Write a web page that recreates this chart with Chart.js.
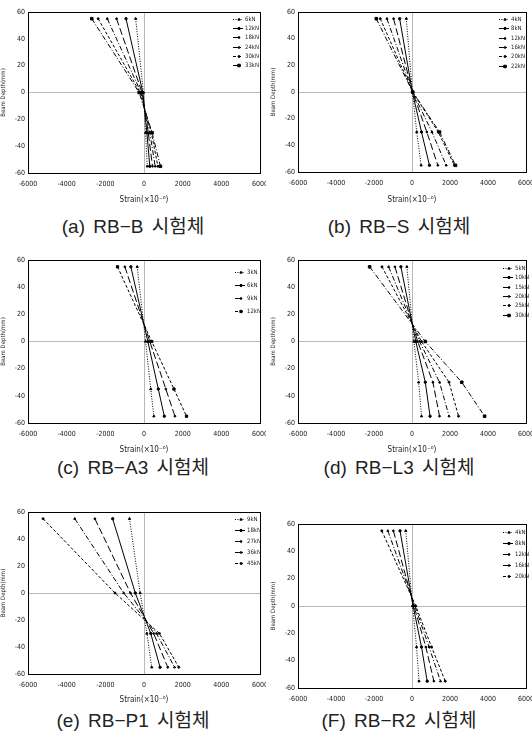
<!DOCTYPE html>
<html>
<head>
<meta charset="utf-8">
<script src="https://cdn.jsdelivr.net/npm/chart.js@4.4.0/dist/chart.umd.min.js"></script>
<style>
  body { margin: 0; background: #fff; width: 532px; height: 741px; position: relative; overflow: hidden; }
  canvas { position: absolute; }
  .cap { position: absolute; width: 266px; text-align: center; white-space: nowrap;
         font-family: 'Liberation Sans', 'Noto Sans CJK KR', sans-serif; font-size: 19px;
         line-height: 22px; color: #222; word-spacing: 3px; }
</style>
</head>
<body>
<canvas id="cA" width="266" height="205" style="left:0;top:0"></canvas>
<canvas id="cB" width="266" height="205" style="left:266px;top:0"></canvas>
<canvas id="cC" width="266" height="215" style="left:0;top:240px"></canvas>
<canvas id="cD" width="266" height="215" style="left:266px;top:240px"></canvas>
<canvas id="cE" width="266" height="225" style="left:0;top:480px"></canvas>
<canvas id="cF" width="266" height="225" style="left:266px;top:480px"></canvas>
<div class="cap" style="left:0;top:216px">(a) RB−B 시험체</div>
<div class="cap" style="left:266px;top:216px">(b) RB−S 시험체</div>
<div class="cap" style="left:0;top:457px">(c) RB−A3 시험체</div>
<div class="cap" style="left:266px;top:457px">(d) RB−L3 시험체</div>
<div class="cap" style="left:0;top:710px">(e) RB−P1 시험체</div>
<div class="cap" style="left:266px;top:710px">(F) RB−R2 시험체</div>
<script>
// axis ticks
const tickX = [-6000, -4000, -2000, 0, 2000, 4000, 6000];
const tickY = [-60, -40, -20, 0, 20, 40, 60];

// gauge depths (mm)
const depths = [55, 0, -30, -55];
const depthsC = [55, 0, -35, -55];

// (a) RB-B
const loadsA = ['6kN', '12kN', '18kN', '24kN', '30kN', '33kN'];
const strainA = [
  [-430, -30, 80, 170],
  [-930, -60, 150, 300],
  [-1420, -100, 220, 440],
  [-1900, -150, 300, 580],
  [-2370, -200, 380, 720],
  [-2700, -250, 420, 850]
];

// (b) RB-S
const loadsB = ['4kN', '8kN', '12kN', '16kN', '20kN', '22kN'];
const strainB = [
  [-300, 20, 250, 480],
  [-650, 20, 500, 920],
  [-970, 30, 780, 1360],
  [-1320, 30, 1050, 1800],
  [-1670, 40, 1380, 2230],
  [-1880, 40, 1450, 2290]
];

// (c) RB-A3
const loadsC = ['3kN', '6kN', '9kN', '12kN'];
const strainC = [
  [-350, 80, 350, 510],
  [-680, 200, 740, 1050],
  [-990, 300, 1130, 1600],
  [-1370, 400, 1550, 2200]
];

// (d) RB-L3
const loadsD = ['5kN', '10kN', '15kN', '20kN', '25kN', '30kN'];
const strainD = [
  [-270, 100, 350, 500],
  [-585, 200, 700, 950],
  [-900, 300, 1100, 1450],
  [-1230, 400, 1450, 1950],
  [-1580, 500, 1950, 2450],
  [-2230, 700, 2620, 3820]
];

// (e) RB-P1
const loadsE = ['9kN', '18kN', '27kN', '36kN', '45kN'];
const strainE = [
  [-750, -200, 150, 400],
  [-1620, -450, 350, 830],
  [-2540, -700, 500, 1230],
  [-3580, -1050, 650, 1580],
  [-5220, -1500, 800, 1800]
];

// (f) RB-R2
const loadsF = ['4kN', '8kN', '12kN', '16kN', '20kN'];
const strainF = [
  [-330, 30, 240, 370],
  [-630, 60, 500, 800],
  [-980, 100, 730, 1150],
  [-1270, 150, 900, 1500],
  [-1590, 200, 1030, 1750]
];

const FONT = "'Liberation Sans Narrow', 'DejaVu Sans Condensed', 'Liberation Sans', sans-serif";

const styles = {
  dot:     { dash: [1, 1.5], pt: 'triangle', r: 1.3 },
  solid:   { dash: [], pt: 'circle', r: 1.2 },
  long:    { dash: [7, 3], pt: 'circle', r: 0.9 },
  dashdot: { dash: [5, 2, 1, 2], pt: 'triangle', r: 1.2 },
  dash:    { dash: [3, 2], pt: 'circle', r: 1.0 },
  sqdd:    { dash: [5, 2, 1, 2], pt: 'rect', r: 1.8 },
  sqdash:  { dash: [3, 2], pt: 'rect', r: 1.6 }
};

const frame = {
  id: 'frame',
  afterDraw(chart) {
    const { ctx, chartArea: a } = chart;
    ctx.save();
    ctx.strokeStyle = '#000';
    ctx.lineWidth = 1;
    ctx.strokeRect(Math.round(a.left) + 0.5, Math.round(a.top) + 0.5,
      Math.round(a.right - a.left), Math.round(a.bottom - a.top));
    ctx.restore();
  }
};

const insideLegend = {
  id: 'insideLegend',
  afterDatasetsDraw(chart, args, o) {
    const { ctx, chartArea: a } = chart;
    ctx.save();
    ctx.font = '6px ' + FONT;
    ctx.textBaseline = 'middle';
    chart.data.datasets.forEach((ds, i) => {
      const y = Math.round(a.top + o.top + i * o.gap) + 0.5;
      const x0 = a.right - o.right;
      ctx.strokeStyle = '#000';
      ctx.fillStyle = '#000';
      ctx.lineWidth = 1;
      ctx.setLineDash(ds.borderDash || []);
      ctx.beginPath();
      ctx.moveTo(x0, y);
      ctx.lineTo(x0 + 10, y);
      ctx.stroke();
      ctx.setLineDash([]);
      Chart.helpers.drawPoint(ctx, { pointStyle: ds.pointStyle, radius: ds.pointRadius, borderWidth: 1 }, x0 + 6, y);
      ctx.fillStyle = '#222';
      ctx.fillText(ds.label, x0 + 12, y);
    });
    ctx.restore();
  }
};

function makeChart(id, loads, ys, strains, o) {
  const datasets = loads.map((name, i) => {
    const st = styles[o.styles[i]];
    return {
      label: name,
      data: strains[i].map((v, k) => ({ x: v, y: ys[k] })),
      showLine: true,
      borderColor: '#000',
      backgroundColor: '#000',
      borderWidth: 1,
      borderDash: st.dash,
      pointStyle: st.pt,
      pointRadius: st.r,
      pointBorderWidth: 1
    };
  });
  const gridColor = c => (c.tick && c.tick.value === 0) ? '#b8b8b8' : 'rgba(0,0,0,0)';
  return new Chart(document.getElementById(id), {
    type: 'scatter',
    data: { datasets },
    options: {
      responsive: false,
      animation: false,
      devicePixelRatio: 1,
      layout: { padding: { top: o.top, right: 6, left: o.left, bottom: 0 } },
      plugins: {
        legend: { display: false },
        tooltip: { enabled: false },
        insideLegend: o.legend
      },
      scales: {
        x: {
          type: 'linear', min: -6000, max: 6000,
          afterBuildTicks: s => { s.ticks = tickX.map(v => ({ value: v })); },
          grid: { drawTicks: false, color: gridColor, lineWidth: 1 },
          border: { display: false },
          ticks: { padding: 7, autoSkip: false, maxRotation: 0, color: '#222', font: { size: 7, family: FONT },
                   callback: v => String(v) },
          title: { display: o.xTitle, text: 'Strain(×10⁻⁶)', color: '#222', padding: 0, font: { size: 8, family: FONT } },
          afterFit: s => { s.height = o.xH; s.paddingLeft = 0; s.paddingRight = 0; }
        },
        y: {
          type: 'linear', min: -60, max: 60,
          afterBuildTicks: s => { s.ticks = tickY.map(v => ({ value: v })); },
          grid: { drawTicks: false, color: gridColor, lineWidth: 1 },
          border: { display: false },
          ticks: { padding: 3, color: '#222', font: { size: 7, family: FONT }, callback: v => String(v) },
          title: { display: true, text: 'Beam Depth(mm)', color: '#222', padding: 0, font: { size: 6, family: FONT } },
          afterFit: s => { s.width = 28; s.paddingTop = 0; s.paddingBottom = 0; }
        }
      }
    },
    plugins: [frame, insideLegend]
  });
}

const six = ['dot', 'solid', 'long', 'dashdot', 'dash', 'sqdd'];
const five = ['dot', 'solid', 'long', 'dashdot', 'dash'];

makeChart('cA', loadsA, depths, strainA, { top: 12, left: 0, xH: 32, xTitle: true, styles: six, legend: { top: 7, right: 27, gap: 9.2 } });
makeChart('cB', loadsB, depths, strainB, { top: 12, left: 4, xH: 33, xTitle: true, styles: six, legend: { top: 7, right: 27, gap: 9.3 } });
makeChart('cC', loadsC, depthsC, strainC, { top: 20, left: 0, xH: 32, xTitle: true, styles: ['dot', 'solid', 'long', 'sqdash'], legend: { top: 12, right: 25, gap: 13 } });
makeChart('cD', loadsD, depths, strainD, { top: 20, left: 4, xH: 32, xTitle: true, styles: six, legend: { top: 8, right: 23, gap: 9.3 } });
makeChart('cE', loadsE, depths, strainE, { top: 32, left: 0, xH: 31, xTitle: true, styles: five, legend: { top: 7, right: 25, gap: 11 } });
makeChart('cF', loadsF, depths, strainF, { top: 44, left: 4, xH: 17, xTitle: false, styles: five, legend: { top: 8, right: 23, gap: 11 } });
</script>
</body>
</html>
